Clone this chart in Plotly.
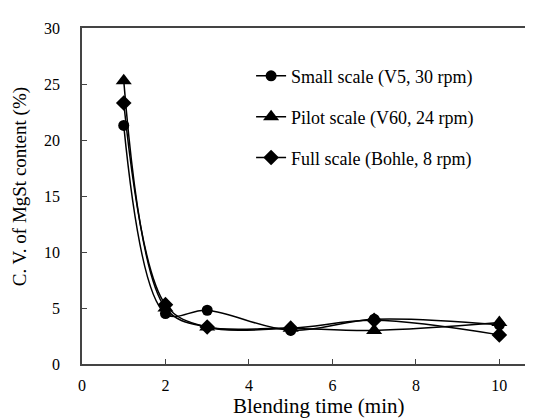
import plotly.graph_objects as go

time_min = [1, 2, 3, 5, 7, 10]
small_scale = [21.3, 4.5, 4.8, 3.0, 4.0, 3.5]
pilot_scale = [25.3, 5.0, 3.3, 3.2, 3.0, 3.7]
full_scale = [23.3, 5.3, 3.3, 3.2, 3.9, 2.6]

names = ["Small scale (V5, 30 rpm)", "Pilot scale (V60, 24 rpm)", "Full scale (Bohle, 8 rpm)"]
symbols = ["circle", "triangle-up", "diamond"]
sizes = [11, 14, 12]
series = [small_scale, pilot_scale, full_scale]

x_ticks = [0, 2, 4, 6, 8, 10]
y_ticks = [0, 5, 10, 15, 20, 25, 30]

font_family = "Liberation Serif, Times New Roman, serif"

fig = go.Figure()
for i, (nm, sym, sz, ys) in enumerate(zip(names, symbols, sizes, series)):
    fig.add_trace(go.Scatter(
        x=time_min, y=ys, name=nm, mode="lines+markers",
        line=dict(color="black", width=1.5, shape="spline", smoothing=1.0),
        marker=dict(symbol=sym, size=sz, color="black"),
        legendgroup=f"g{i}",
    ))

axis_common = dict(
    showgrid=False, zeroline=False, showline=True, linecolor="#444", linewidth=1.5,
    ticks="inside", ticklen=5, tickcolor="#444", mirror=True,
    tickfont=dict(family=font_family, size=16, color="black"),
)

fig.update_layout(
    width=533, height=418,
    margin=dict(l=74, r=0, t=20, b=62),
    paper_bgcolor="white", plot_bgcolor="white",
    font=dict(family=font_family, color="black"),
    xaxis=dict(range=[0, 10.95], tickvals=x_ticks, ticklabelstandoff=6, **axis_common),
    yaxis=dict(range=[0, 30], tickvals=y_ticks, ticklabelstandoff=17, **axis_common),
    legend=dict(x=0.37, y=0.912, xanchor="left", yanchor="top",
                font=dict(family=font_family, size=18, color="black"),
                tracegroupgap=14.5, bgcolor="rgba(0,0,0,0)"),
    annotations=[
        dict(text="Blending time (min)", xref="paper", yref="paper", x=(312 - 74) / 459, y=-42 / 336,
             xanchor="center", yanchor="middle", showarrow=False,
             font=dict(family=font_family, size=21, color="black")),
        dict(text="C. V. of MgSt content (%)", xref="paper", yref="paper", x=(12 - 74) / 459, y=(356 - 179) / 336,
             xanchor="center", yanchor="middle", showarrow=False, textangle=-90,
             font=dict(family=font_family, size=19, color="black")),
    ],
)

fig.write_html("out.html")
